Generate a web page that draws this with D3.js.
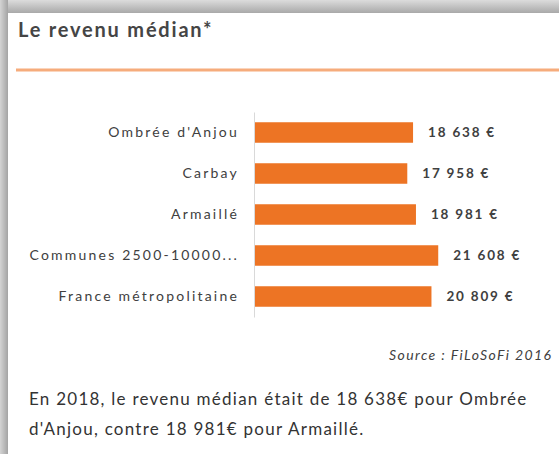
<!DOCTYPE html>
<html>
<head>
<meta charset="utf-8">
<script src="https://cdn.jsdelivr.net/npm/d3@7"></script>
<style>
  html, body { margin: 0; padding: 0; background: #fff; }
  svg { display: block; }
</style>
</head>
<body>
<svg id="chart" width="559" height="454"></svg>
<script>
// Revenu médian par territoire (FiLoSoFi)
const categories = ["Ombrée d'Anjou", "Carbay", "Armaillé", "Communes 2500-10000...", "France métropolitaine"];
const values = [18638, 17958, 18981, 21608, 20809];
const titleText = "Le revenu médian*";
const sourceText = "Source : FiLoSoFi 2016";

const W = 559, H = 454;
const svg = d3.select("#chart");
const defs = svg.append("defs");

// Panel shadow (top and left)
const gTop = defs.append("linearGradient").attr("id", "shTop").attr("x1", 0).attr("y1", 0).attr("x2", 0).attr("y2", 1);
gTop.append("stop").attr("offset", "0%").attr("stop-color", "#dcdcdc");
gTop.append("stop").attr("offset", "100%").attr("stop-color", "#a9a9a9");
const gLeft = defs.append("linearGradient").attr("id", "shLeft").attr("x1", 0).attr("y1", 0).attr("x2", 1).attr("y2", 0);
gLeft.append("stop").attr("offset", "0%").attr("stop-color", "#d4d4d4");
gLeft.append("stop").attr("offset", "100%").attr("stop-color", "#a4a4a4");

svg.append("rect").attr("x", 0).attr("y", 0).attr("width", W).attr("height", H).attr("fill", "#fff");
svg.append("rect").attr("x", 0).attr("y", 0).attr("width", W).attr("height", 13).attr("fill", "url(#shTop)");
svg.append("rect").attr("x", 0).attr("y", 0).attr("width", 8).attr("height", H).attr("fill", "url(#shLeft)");

// Title and separator
svg.append("text")
  .attr("x", 18).attr("y", 37)
  .attr("font-family", "Lato, 'Open Sans', sans-serif")
  .attr("font-weight", 700)
  .attr("font-size", 20)
  .attr("letter-spacing", 1.8)
  .attr("fill", "#454545")
  .text(titleText);

svg.append("line")
  .attr("x1", 16).attr("x2", W).attr("y1", 70).attr("y2", 70)
  .attr("stroke", "#f6ac7c").attr("stroke-width", 3);

// Scales
const x = d3.scaleLinear().domain([0, 25000]).range([255, 467]);
const y = d3.scaleBand().domain(categories).range([112, 317]).paddingInner(0.5).paddingOuter(0.25);

const fmt = d3.formatLocale({ decimal: ",", thousands: " ", grouping: [3], currency: ["", " €"] }).format(",.0f");

// Category axis
const yAxis = d3.axisLeft(y).tickSize(0).tickPadding(15);
const axisG = svg.append("g").attr("transform", "translate(254,0)").call(yAxis);
axisG.select(".domain").attr("stroke", "#d9d9d9").attr("stroke-width", 1);
axisG.selectAll("text")
  .attr("font-family", "Lato, sans-serif")
  .attr("font-size", 14)
  .attr("letter-spacing", 2.2)
  .attr("fill", "#404040");

// Bars
svg.append("g").selectAll("rect")
  .data(categories)
  .join("rect")
  .attr("x", x(0))
  .attr("y", d => y(d))
  .attr("width", (d, i) => x(values[i]) - x(0))
  .attr("height", y.bandwidth())
  .attr("fill", "#ed7424");

// Value labels
svg.append("g").selectAll("text")
  .data(categories)
  .join("text")
  .attr("x", (d, i) => x(values[i]) + 15)
  .attr("y", d => y(d) + y.bandwidth() / 2)
  .attr("dy", "0.35em")
  .attr("font-family", "Lato, sans-serif")
  .attr("font-weight", 700)
  .attr("font-size", 13.5)
  .attr("letter-spacing", 1.8)
  .attr("fill", "#404040")
  .text((d, i) => fmt(values[i]) + " €");

// Source
svg.append("text")
  .attr("x", 389).attr("y", 360)
  .attr("font-family", "Lato, sans-serif")
  .attr("font-style", "italic")
  .attr("font-size", 14)
  .attr("letter-spacing", 1.4)
  .attr("fill", "#404040")
  .text(sourceText);

// Commentary
const iO = categories.indexOf("Ombrée d'Anjou");
const iA = categories.indexOf("Armaillé");
const para = svg.append("text")
  .attr("font-family", "Lato, sans-serif")
  .attr("font-size", 17)
  .attr("letter-spacing", 1.25)
  .attr("fill", "#333333");
para.append("tspan").attr("x", 29).attr("y", 405)
  .text(`En 2018, le revenu médian était de ${fmt(values[iO])}€ pour Ombrée`);
para.append("tspan").attr("x", 29).attr("y", 435)
  .text(`d'Anjou, contre ${fmt(values[iA])}€ pour Armaillé.`);
</script>
</body>
</html>
